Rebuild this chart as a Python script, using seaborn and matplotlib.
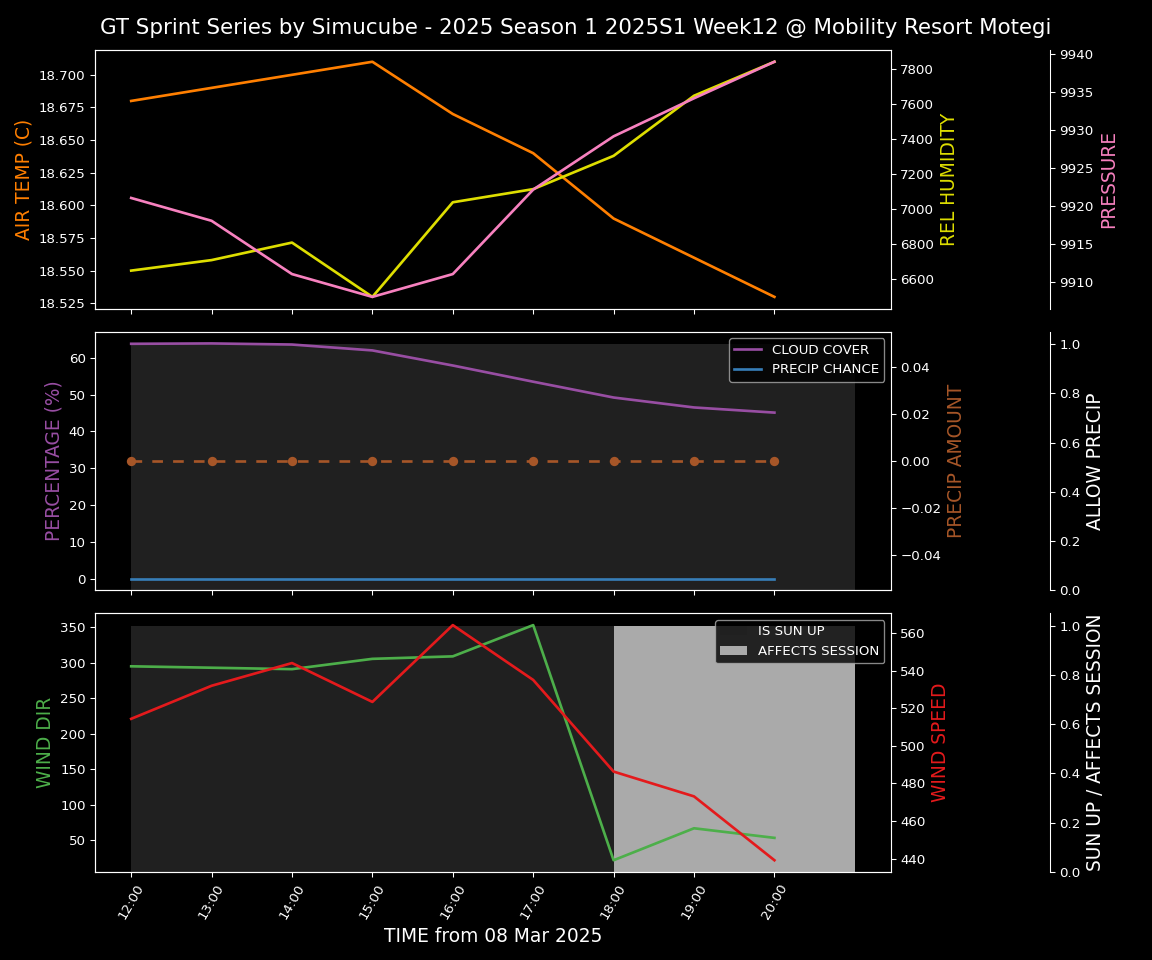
import matplotlib
matplotlib.use("Agg")
import matplotlib.pyplot as plt
import seaborn as sns
import numpy as np
from matplotlib.ticker import FixedLocator, FixedFormatter

# ---- data ----
hours = [12, 13, 14, 15, 16, 17, 18, 19, 20]
tick_labels = ["12:00", "13:00", "14:00", "15:00", "16:00", "17:00", "18:00", "19:00", "20:00"]

air_temp = [18.68, 18.69, 18.70, 18.71, 18.67, 18.64, 18.59, 18.56, 18.53]
rel_humidity = [6650, 6710, 6810, 6500, 7040, 7115, 7305, 7648, 7842]
pressure = [9921.1, 9918.1, 9911.1, 9908.1, 9911.1, 9922.2, 9929.2, 9934.2, 9939.0]

cloud_cover = [63.8, 63.9, 63.6, 62.0, 57.9, 53.5, 49.2, 46.5, 45.1]
precip_chance = [0, 0, 0, 0, 0, 0, 0, 0, 0]
precip_amount = [0, 0, 0, 0, 0, 0, 0, 0, 0]
allow_precip = [1, 1, 1, 1, 1, 1, 1, 1, 1]

wind_dir = [295, 293, 291, 305.5, 309, 353, 22, 67, 53.5]
wind_speed = [514.4, 532, 544.1, 523.4, 564.3, 535.1, 486.3, 473.1, 439.1]
sun_up = [1, 1, 1, 1, 1, 1, 0, 0, 0]
affects_session = [0, 0, 0, 0, 0, 0, 1, 1, 1]

title = "GT Sprint Series by Simucube - 2025 Season 1 2025S1 Week12 @ Mobility Resort Motegi"
xlabel = "TIME from 08 Mar 2025"

# ---- colours ----
C_TEMP = "#ff7f00"
C_HUM = "#dede00"
C_PRES = "#f781bf"
C_CLOUD = "#984ea3"
C_PCHANCE = "#377eb8"
C_PAMT = "#a65628"
C_WDIR = "#4daf4a"
C_WSPD = "#e41a1c"
C_FILL = "#202020"
C_AFFECT = "#aaaaaa"

plt.style.use("dark_background")
plt.rcParams["font.family"] = ["DejaVu Sans"]

fig, (ax1, ax2, ax3) = plt.subplots(3, 1, figsize=(12, 10), dpi=96, sharex=True)
fig.subplots_adjust(left=95 / 1152, right=891 / 1152, top=1 - 50 / 960, bottom=1 - 872 / 960, hspace=0.089)

LW = 2
LABEL_FS = 14

# ---- top panel ----
sns.lineplot(x=hours, y=air_temp, ax=ax1, color=C_TEMP, lw=LW)
ax1.set_ylabel("AIR TEMP (C)", color=C_TEMP, fontsize=LABEL_FS)
ax1b = ax1.twinx()
sns.lineplot(x=hours, y=rel_humidity, ax=ax1b, color=C_HUM, lw=LW)
ax1b.set_ylabel("REL HUMIDITY", color=C_HUM, fontsize=LABEL_FS)
ax1c = ax1.twinx()
ax1c.spines["right"].set_position(("axes", 1.2))
sns.lineplot(x=hours, y=pressure, ax=ax1c, color=C_PRES, lw=LW)
ax1c.set_ylabel("PRESSURE", color=C_PRES, fontsize=LABEL_FS)

# ---- middle panel ----
ax2c = ax2.twinx()
ax2c.spines["right"].set_position(("axes", 1.2))
ax2c.bar(hours, allow_precip, width=1, align="edge", color=C_FILL)
ax2c.set_ylabel("ALLOW PRECIP", color="white", fontsize=LABEL_FS)
sns.lineplot(x=hours, y=cloud_cover, ax=ax2, color=C_CLOUD, lw=LW, label="CLOUD COVER")
sns.lineplot(x=hours, y=precip_chance, ax=ax2, color=C_PCHANCE, lw=LW, label="PRECIP CHANCE")
ax2.set_ylabel("PERCENTAGE (%)", color=C_CLOUD, fontsize=LABEL_FS)
ax2b = ax2.twinx()
sns.lineplot(x=hours, y=precip_amount, ax=ax2b, color=C_PAMT, lw=LW, marker="o",
             markersize=7, markeredgewidth=0, dashes=False)
for ln in ax2b.get_lines():
    ln.set_dashes((4.0, 3.8))
ax2b.set_ylabel("PRECIP AMOUNT", color=C_PAMT, fontsize=LABEL_FS)
ax2c.set_zorder(0)
ax2.set_zorder(1)
ax2.patch.set_visible(False)
ax2b.set_zorder(2)
ax2b.patch.set_visible(False)
ax2.legend(loc="upper right", facecolor="black", edgecolor="#aaaaaa", framealpha=0.8)

# ---- bottom panel ----
ax3c = ax3.twinx()
ax3c.spines["right"].set_position(("axes", 1.2))
b1 = ax3c.bar(hours, sun_up, width=1, align="edge", color=C_FILL, label="IS SUN UP")
b2 = ax3c.bar(hours, affects_session, width=1, align="edge", color=C_AFFECT, label="AFFECTS SESSION")
ax3c.set_ylabel("SUN UP / AFFECTS SESSION", color="white", fontsize=LABEL_FS)
sns.lineplot(x=hours, y=wind_dir, ax=ax3, color=C_WDIR, lw=LW)
ax3.set_ylabel("WIND DIR", color=C_WDIR, fontsize=LABEL_FS)
ax3b = ax3.twinx()
sns.lineplot(x=hours, y=wind_speed, ax=ax3b, color=C_WSPD, lw=LW)
ax3b.set_ylabel("WIND SPEED", color=C_WSPD, fontsize=LABEL_FS)
ax3c.set_zorder(0)
ax3.set_zorder(1)
ax3.patch.set_visible(False)
ax3b.set_zorder(2)
ax3b.patch.set_visible(False)
ax3b.legend(handles=[b1, b2], loc="upper right", facecolor="black", edgecolor="#aaaaaa", framealpha=0.8)

# ---- x axis ----
ax3.xaxis.set_major_locator(FixedLocator(hours))
ax3.xaxis.set_major_formatter(FixedFormatter(tick_labels))
for lab in ax3.get_xticklabels():
    lab.set_rotation(60)
ax3.set_xlabel(xlabel, fontsize=LABEL_FS)
for a in (ax1, ax2):
    a.tick_params(labelbottom=False)

fig.suptitle(title, fontsize=16, y=1 - 28 / 960, va="center")

fig.savefig("out.png", dpi=96, facecolor="black")
